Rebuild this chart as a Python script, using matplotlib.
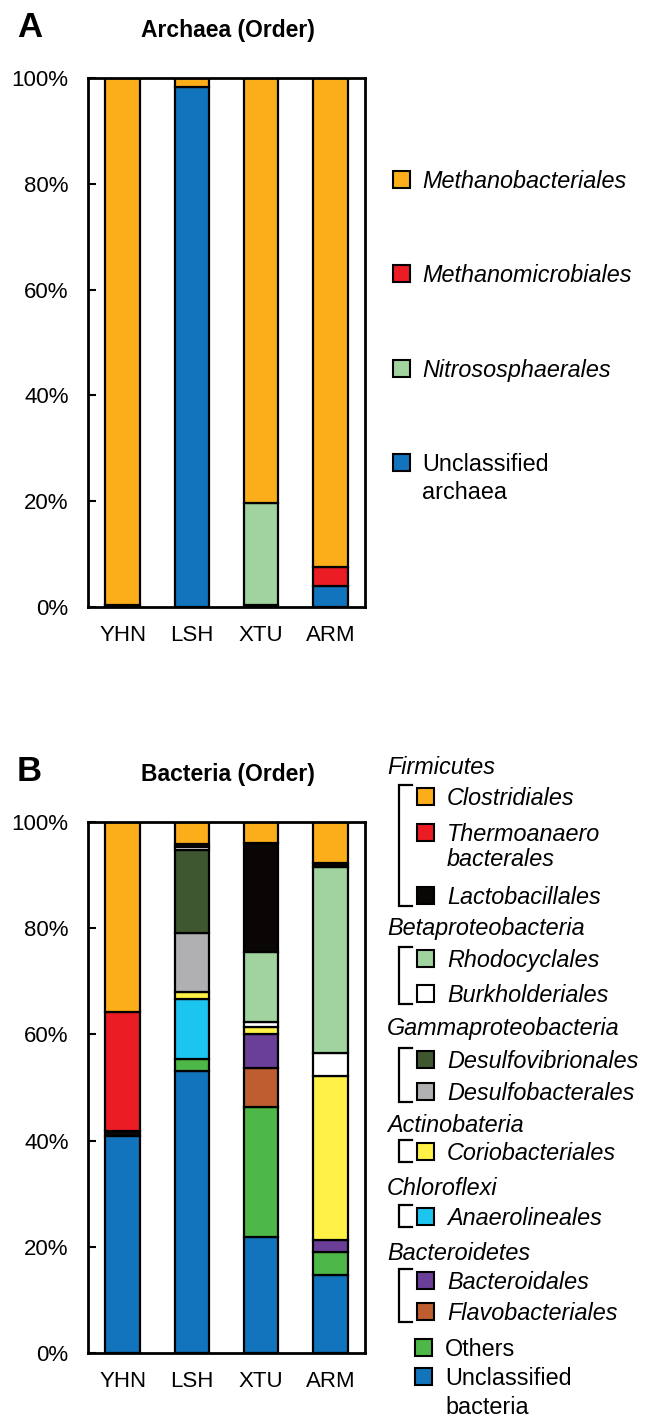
import numpy as np
import matplotlib
matplotlib.use("Agg")
import matplotlib.pyplot as plt
from matplotlib.patches import Rectangle
from matplotlib.lines import Line2D

plt.rcParams['font.family'] = ['Liberation Sans', 'DejaVu Sans']

W, H = 651, 1424

sites = ["YHN", "LSH", "XTU", "ARM"]
yticks = [0, 20, 40, 60, 80, 100]
ytick_labels = ["0%", "20%", "40%", "60%", "80%", "100%"]

# ---- Archaea (stack order bottom -> top) ----
arch_names = ["Unclassified archaea", "Nitrososphaerales", "Methanomicrobiales", "Methanobacteriales"]
arch_unclassified = [0.3, 98.3, 0.3, 3.9]
arch_nitroso = [0.0, 0.0, 19.4, 0.0]
arch_methanomicro = [0.0, 0.0, 0.0, 3.6]
arch_methanobact = [99.7, 1.7, 80.3, 92.5]

# ---- Bacteria (stack order bottom -> top) ----
bac_unclassified = [40.9, 53.1, 21.8, 14.7]
bac_others = [0.0, 2.3, 24.5, 4.4]
bac_flavo = [0.0, 0.0, 7.4, 0.0]
bac_bacteroidales = [0.0, 0.0, 6.4, 2.2]
bac_anaero = [0.0, 11.2, 0.0, 0.0]
bac_corio = [0.0, 1.4, 1.2, 30.8]
bac_desulfobact = [0.0, 11.1, 0.0, 0.0]
bac_desulfovib = [0.0, 15.7, 0.0, 0.0]
bac_burkh = [0.0, 0.5, 1.0, 4.4]
bac_rhodo = [0.0, 0.0, 13.2, 35.0]
bac_lacto = [1.0, 0.5, 20.5, 0.7]
bac_thermo = [22.4, 0.0, 0.0, 0.0]
bac_clost = [35.7, 4.2, 4.0, 7.8]

C_ORANGE = '#FBAE1A'
C_RED = '#EC1C24'
C_LGREEN = '#A0D39D'
C_BLUE = '#1274BD'
C_BLACK = '#0A0605'
C_WHITE = '#FFFFFF'
C_DGREEN = '#3F5731'
C_GREY = '#B0B0B3'
C_YELLOW = '#FFF146'
C_CYAN = '#1CC4F0'
C_PURPLE = '#6A3F98'
C_BROWN = '#BE5E30'
C_GREEN = '#4DB848'

arch_series = [arch_unclassified, arch_nitroso, arch_methanomicro, arch_methanobact]
arch_colors = [C_BLUE, C_LGREEN, C_RED, C_ORANGE]

bac_series = [bac_unclassified, bac_others, bac_flavo, bac_bacteroidales, bac_anaero,
              bac_corio, bac_desulfobact, bac_desulfovib, bac_burkh, bac_rhodo,
              bac_lacto, bac_thermo, bac_clost]
bac_colors = [C_BLUE, C_GREEN, C_BROWN, C_PURPLE, C_CYAN, C_YELLOW, C_GREY, C_DGREEN,
              C_WHITE, C_LGREEN, C_BLACK, C_RED, C_ORANGE]

fig = plt.figure(figsize=(W / 100, H / 100), dpi=100)

def fx(x):
    return x / W

def fy(y):
    return 1 - y / H

TICK_FS = 16
LEG_FS = 16.8

def stacked(ax, series, colors):
    x = np.arange(len(sites))
    bottom = np.zeros(len(sites))
    for vals, col in zip(series, colors):
        vals = np.asarray(vals, dtype=float)
        mask = vals > 0
        ax.bar(x[mask], vals[mask], width=0.5, bottom=bottom[mask], color=col,
               edgecolor='black', linewidth=1.6, zorder=2)
        bottom = bottom + vals
    ax.set_xlim(-0.5, len(sites) - 0.5)
    ax.set_ylim(0, 100)
    ax.set_xticks(x)
    ax.set_xticklabels(sites, fontsize=TICK_FS)
    ax.set_yticks(yticks)
    ax.set_yticklabels(ytick_labels, fontsize=TICK_FS)
    ax.tick_params(axis='y', direction='in', length=6, width=1.5, pad=14)
    ax.tick_params(axis='x', length=0, pad=13)
    for s in ax.spines.values():
        s.set_linewidth(2.0)

ax1 = fig.add_axes([fx(88), fy(607), fx(365 - 88), (607 - 78) / H])
stacked(ax1, arch_series, arch_colors)
ax2 = fig.add_axes([fx(88), fy(1353), fx(365 - 88), (1353 - 822) / H])
stacked(ax2, bac_series, bac_colors)

# panel labels and titles
fig.text(fx(17), fy(37), "A", fontsize=25, fontweight='bold', va='baseline', ha='left')
fig.text(fx(228), fy(37), "Archaea (Order)", fontsize=16.5, fontweight='bold', va='baseline', ha='center')
fig.text(fx(17), fy(781), "B", fontsize=25, fontweight='bold', va='baseline', ha='left')
fig.text(fx(228), fy(781), "Bacteria (Order)", fontsize=16.5, fontweight='bold', va='baseline', ha='center')

SQ = 17

def square(x, yc, color):
    fig.patches.append(Rectangle((fx(x), fy(yc + SQ / 2)), SQ / W, SQ / H, transform=fig.transFigure,
                                 facecolor=color, edgecolor='black', linewidth=1.5))

def label(x, yc, txt, italic=True):
    fig.text(fx(x), fy(yc), txt, fontsize=LEG_FS, style='italic' if italic else 'normal',
             va='center_baseline', ha='left')

# ---- Archaea legend ----
arch_leg = [("Methanobacteriales", C_ORANGE, 179, True),
            ("Methanomicrobiales", C_RED, 273, True),
            ("Nitrososphaerales", C_LGREEN, 368, True),
            ("Unclassified", C_BLUE, 462, False)]
for name, col, yc, it in arch_leg:
    square(393, yc, col)
    label(422, yc, name, it)
label(422, 490, "archaea", False)

# ---- Bacteria legend ----
headers = [("Firmicutes", 765), ("Betaproteobacteria", 926), ("Gammaproteobacteria", 1026),
           ("Actinobateria", 1123), ("Chloroflexi", 1186), ("Bacteroidetes", 1251)]
for name, yc in headers:
    label(387, yc, name, True)

items = [("Clostridiales", C_ORANGE, 796), ("Thermoanaero", C_RED, 832),
         ("Lactobacillales", C_BLACK, 895), ("Rhodocyclales", C_LGREEN, 958),
         ("Burkholderiales", C_WHITE, 993), ("Desulfovibrionales", C_DGREEN, 1059),
         ("Desulfobacterales", C_GREY, 1091), ("Coriobacteriales", C_YELLOW, 1151),
         ("Anaerolineales", C_CYAN, 1216), ("Bacteroidales", C_PURPLE, 1280),
         ("Flavobacteriales", C_BROWN, 1311)]
for name, col, yc in items:
    square(417, yc, col)
    label(447, yc, name, True)
label(447, 857, "bacterales", True)

square(415, 1347, C_GREEN)
label(445, 1347, "Others", False)
square(415, 1376, C_BLUE)
label(445, 1376, "Unclassified", False)
label(445, 1405, "bacteria", False)

brackets = [(796, 895), (958, 993), (1059, 1091), (1151, 1151), (1216, 1216), (1280, 1311)]
for y0, y1 in brackets:
    ya, yb = y0 - 11, y1 + 11
    xs = [412, 399, 399, 412]
    ys = [ya, ya, yb, yb]
    fig.lines.append(Line2D([fx(v) for v in xs], [fy(v) for v in ys], transform=fig.transFigure,
                            color='black', linewidth=1.6, solid_joinstyle='miter'))

fig.savefig("out.png", dpi=100)
